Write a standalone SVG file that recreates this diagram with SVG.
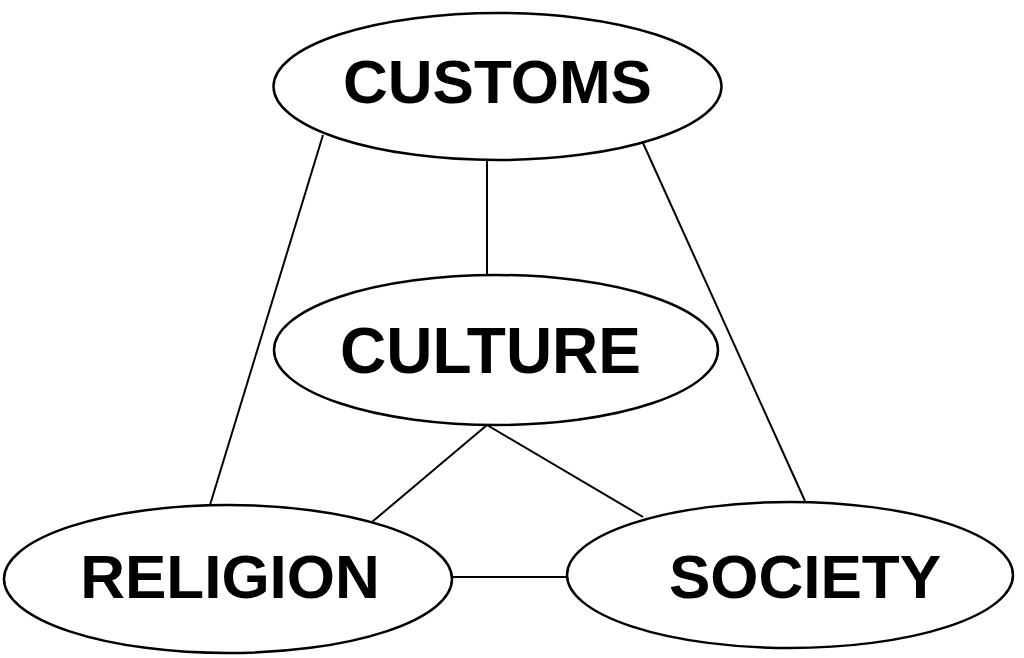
<svg xmlns="http://www.w3.org/2000/svg" width="1024" height="658" viewBox="0 0 1024 658">
<style>
.n{fill:#fff;stroke:#000;stroke-width:2.5}
.t{font-family:"Liberation Sans",Arial,sans-serif;font-weight:bold;font-size:62px;fill:#000;text-anchor:middle}
.c line{stroke:#000;stroke-width:2}
</style>
<rect width="1024" height="658" fill="#fff"/>
<g class="c" id="connectors">
<line x1="487" y1="160" x2="487" y2="275"/>
<line x1="323" y1="135" x2="210" y2="505"/>
<line x1="643" y1="143" x2="805" y2="501"/>
<line x1="487" y1="425" x2="372" y2="522"/>
<line x1="487" y1="425" x2="643" y2="517"/>
<line x1="452" y1="577" x2="567" y2="577"/>
</g>
<g id="customs"><ellipse class="n" cx="497.5" cy="86.5" rx="224" ry="73.5"/><text class="t" x="497.5" y="103">CUSTOMS</text></g>
<g id="culture"><ellipse class="n" cx="496" cy="350" rx="222" ry="75"/><text class="t" x="490.5" y="373" style="font-size:64px">CULTURE</text></g>
<g id="religion"><ellipse class="n" cx="228" cy="579" rx="224" ry="74"/><text class="t" x="230" y="598">RELIGION</text></g>
<g id="society"><ellipse class="n" cx="790" cy="575" rx="223" ry="73"/><text class="t" x="805" y="598">SOCIETY</text></g>
</svg>
